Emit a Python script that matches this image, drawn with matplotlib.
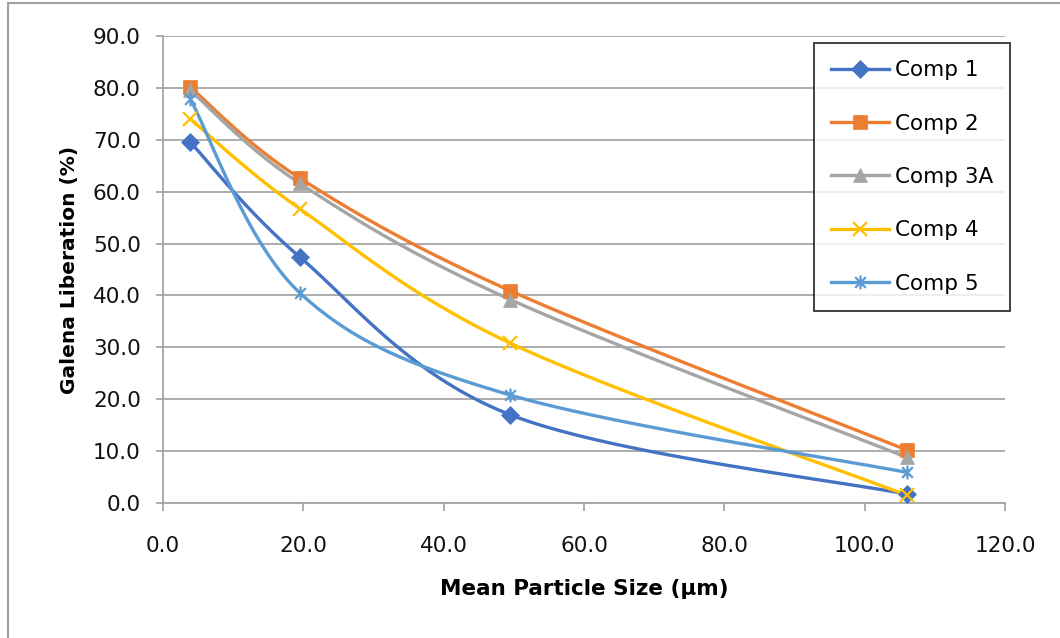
import numpy as np
import matplotlib
matplotlib.use("Agg")
import matplotlib.pyplot as plt
from matplotlib.path import Path
from matplotlib.patches import Rectangle

# ---- data ----
sizes = [3.9, 19.5, 49.5, 106.0]
comp1 = [69.5, 47.4, 17.0, 1.7]
comp2 = [80.1, 62.6, 40.9, 10.2]
comp3a = [79.5, 61.6, 39.2, 8.8]
comp4 = [74.0, 56.7, 30.8, 1.5]
comp5 = [77.8, 40.5, 20.8, 5.9]
labels = ["Comp 1", "Comp 2", "Comp 3A", "Comp 4", "Comp 5"]
x_ticks = [0, 20, 40, 60, 80, 100, 120]
y_ticks = [0, 10, 20, 30, 40, 50, 60, 70, 80, 90]

colors = ["#4472C4", "#ED7D31", "#A5A5A5", "#FFC000", "#5B9BD5"]

# Excel-like asterisk marker: x plus vertical bar
star = Path([(-1, -1), (1, 1), (-1, 1), (1, -1), (0, -1.3), (0, 1.3)],
            [Path.MOVETO, Path.LINETO, Path.MOVETO, Path.LINETO, Path.MOVETO, Path.LINETO])
markers = ["D", "s", "^", "x", star]
msizes = [9, 10, 10, 10, 10]


def smooth(xs, ys, n=40):
    """Catmull-Rom style smoothing similar to Excel's smoothed line."""
    p = np.column_stack([xs, ys]).astype(float)
    pts = np.vstack([p[0], p, p[-1]])
    out = []
    for i in range(1, len(pts) - 2):
        p0, p1, p2, p3 = pts[i - 1], pts[i], pts[i + 1], pts[i + 2]
        c1 = p1 + (p2 - p0) / 6.0
        c2 = p2 - (p3 - p1) / 6.0
        t = np.linspace(0, 1, n)[:, None]
        seg = ((1 - t) ** 3) * p1 + 3 * ((1 - t) ** 2) * t * c1 + 3 * (1 - t) * t ** 2 * c2 + t ** 3 * p2
        out.append(seg if i == 1 else seg[1:])
    s = np.vstack(out)
    return s[:, 0], s[:, 1]


plt.rcParams['font.family'] = ['DejaVu Sans']
fig = plt.figure(figsize=(10.6, 6.38), dpi=100)
ax = fig.add_axes([163 / 1060, 1 - 503 / 638, (1005 - 163) / 1060, (503 - 36) / 638])

series = [comp1, comp2, comp3a, comp4, comp5]
for ys, c, m, ms, lab in zip(series, colors, markers, msizes, labels):
    sx, sy = smooth(sizes, ys)
    ax.plot(sx, sy, color=c, lw=2.4, solid_capstyle='round', zorder=3)
    mew = 1.6 if m in ("x",) or m is star else 0.5
    ax.plot(sizes, ys, linestyle='none', marker=m, markersize=ms, color=c,
            markeredgecolor=c, markeredgewidth=mew, zorder=4)
    ax.plot([], [], color=c, lw=2.4, marker=m, markersize=ms, markeredgecolor=c,
            markeredgewidth=mew, label=lab)

ax.set_xlim(0, 120)
ax.set_ylim(0, 90)
ax.set_xticks(x_ticks)
ax.set_yticks(y_ticks)
ax.set_xticklabels([f"{v:.1f}" for v in x_ticks])
ax.set_yticklabels([f"{v:.1f}" for v in y_ticks])
ax.grid(axis='y', color='#A6A6A6', lw=1.3)
ax.set_axisbelow(True)
for s in ("top", "right"):
    ax.spines[s].set_visible(False)
for s in ("left", "bottom"):
    ax.spines[s].set_color('#A6A6A6')
    ax.spines[s].set_linewidth(1.3)
ax.tick_params(axis='x', direction='out', length=6, width=1.3, color='#A6A6A6',
               labelsize=15.5, pad=18, labelcolor='#111111')
ax.tick_params(axis='y', direction='out', length=5, width=1.3, color='#A6A6A6',
               labelsize=15.5, pad=11, labelcolor='#111111')

ax.set_xlabel("Mean Particle Size (µm)", fontsize=15.5, fontweight='bold', labelpad=16)
ax.set_ylabel("Galena Liberation (%)", fontsize=14.5, fontweight='bold', labelpad=10)

leg = ax.legend(loc='upper right', bbox_to_anchor=(1010 / 1060, 1 - 43 / 638),
                bbox_transform=fig.transFigure, borderaxespad=0, fontsize=15.5,
                frameon=True, fancybox=False, handlelength=2.7, handletextpad=0.25,
                labelspacing=1.55, borderpad=0.8)
leg.get_frame().set_edgecolor('black')
leg.get_frame().set_linewidth(1.3)

fig.patches.append(Rectangle((8 / 1060, -0.01), 1.1, 1 - 3 / 638 + 0.01,
                             transform=fig.transFigure, fill=False,
                             edgecolor='#A0A0A0', lw=1.5))

fig.savefig("out.png", dpi=100)
